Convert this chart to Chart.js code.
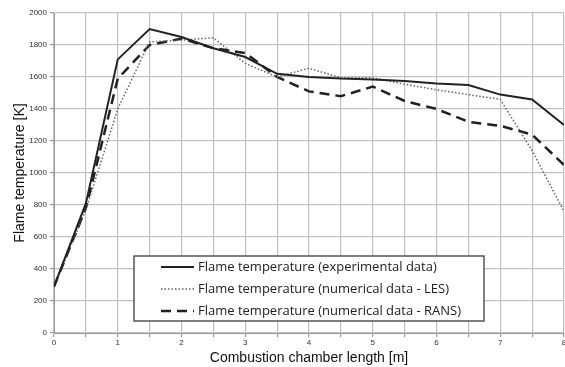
<!DOCTYPE html>
<html>
<head>
<meta charset="utf-8">
<script src="https://cdn.jsdelivr.net/npm/chart.js@4"></script>
<style>
  html, body { margin: 0; padding: 0; background: #fff; }
  #wrap { position: relative; width: 565px; height: 367px; }
</style>
</head>
<body>
<div id="wrap"><canvas id="chart" width="565" height="367"></canvas></div>
<script>
// Chamber positions [m] and temperatures [K].
const lengths = [0, 0.5, 1, 1.5, 2, 2.5, 3, 3.5, 4, 4.5, 5, 5.5, 6, 6.5, 7, 7.5, 8];
const experimental = [290, 810, 1710, 1900, 1850, 1780, 1725, 1620, 1600, 1590, 1585, 1575, 1560, 1550, 1490, 1460, 1300];
const les = [290, 770, 1400, 1820, 1830, 1845, 1685, 1600, 1655, 1595, 1595, 1555, 1520, 1490, 1460, 1140, 760];
const rans = [290, 780, 1590, 1800, 1840, 1780, 1750, 1600, 1510, 1480, 1540, 1450, 1400, 1320, 1295, 1240, 1050];

const labels = [
  'Flame temperature (experimental data)',
  'Flame temperature (numerical data - LES)',
  'Flame temperature (numerical data - RANS)',
];

const pts = (ys) => lengths.map((x, i) => ({ x, y: ys[i] }));
const sans = '"Liberation Sans", Arial, sans-serif';

// Legend box drawn inside the plot area, like the original.
const boxLegend = {
  id: 'boxLegend',
  afterDraw(chart) {
    const { ctx } = chart;
    const x0 = 134, y0 = 256, w = 350, h = 65;
    ctx.save();
    ctx.fillStyle = '#fff';
    ctx.fillRect(x0, y0, w, h);
    ctx.strokeStyle = '#555';
    ctx.lineWidth = 1.5;
    ctx.strokeRect(x0, y0, w, h);
    ctx.font = '13px "Open Sans", sans-serif';
    ctx.textBaseline = 'middle';
    chart.data.datasets.forEach((ds, i) => {
      const y = y0 + 11 + i * 22;
      ctx.beginPath();
      ctx.strokeStyle = ds.borderColor;
      ctx.lineWidth = ds.borderWidth;
      ctx.setLineDash(ds.borderDash || []);
      ctx.moveTo(161, y);
      ctx.lineTo(194, y);
      ctx.stroke();
      ctx.setLineDash([]);
      ctx.fillStyle = '#222';
      ctx.fillText(ds.label, 198, y);
    });
    ctx.restore();
  },
};

new Chart(document.getElementById('chart'), {
  type: 'line',
  data: {
    datasets: [
      { label: labels[0], data: pts(experimental), borderColor: '#222', borderWidth: 2, pointRadius: 0, tension: 0 },
      { label: labels[1], data: pts(les), borderColor: '#666', borderWidth: 1.5, borderDash: [1.5, 2], pointRadius: 0, tension: 0 },
      { label: labels[2], data: pts(rans), borderColor: '#222', borderWidth: 2.5, borderDash: [10, 6], pointRadius: 0, tension: 0 },
    ],
  },
  options: {
    responsive: false,
    animation: false,
    layout: { padding: { top: 13, right: 1, left: 12, bottom: 0 } },
    plugins: { legend: { display: false }, tooltip: { enabled: false } },
    scales: {
      x: {
        type: 'linear', min: 0, max: 8,
        afterFit: (s) => { s.height = 34; s.paddingRight = 0; },
        border: { color: '#999', width: 1 },
        grid: { color: '#c0c0c0', lineWidth: 1.2, tickLength: 4, tickColor: '#999' },
        ticks: {
          stepSize: 0.5, autoSkip: false, maxRotation: 0, padding: 1,
          color: '#333', font: { size: 8, family: sans },
          callback: (v) => (Number.isInteger(v) ? String(v) : ''),
        },
        title: {
          display: true, text: 'Combustion chamber length [m]', color: '#111',
          font: { size: 14, family: sans }, padding: { top: 4, bottom: 0 },
        },
      },
      y: {
        min: 0, max: 2000,
        afterFit: (s) => { s.width = 42; },
        border: { color: '#999', width: 1 },
        grid: { color: '#c0c0c0', lineWidth: 1.2, tickLength: 4, tickColor: '#999' },
        ticks: {
          stepSize: 200, padding: 3,
          color: '#333', font: { size: 8, family: sans },
          callback: (v) => String(v),
        },
        title: {
          display: true, text: 'Flame temperature [K]', color: '#111',
          font: { size: 14, family: sans }, padding: { top: 0, bottom: 0 },
        },
      },
    },
  },
  plugins: [boxLegend],
});
</script>
</body>
</html>
